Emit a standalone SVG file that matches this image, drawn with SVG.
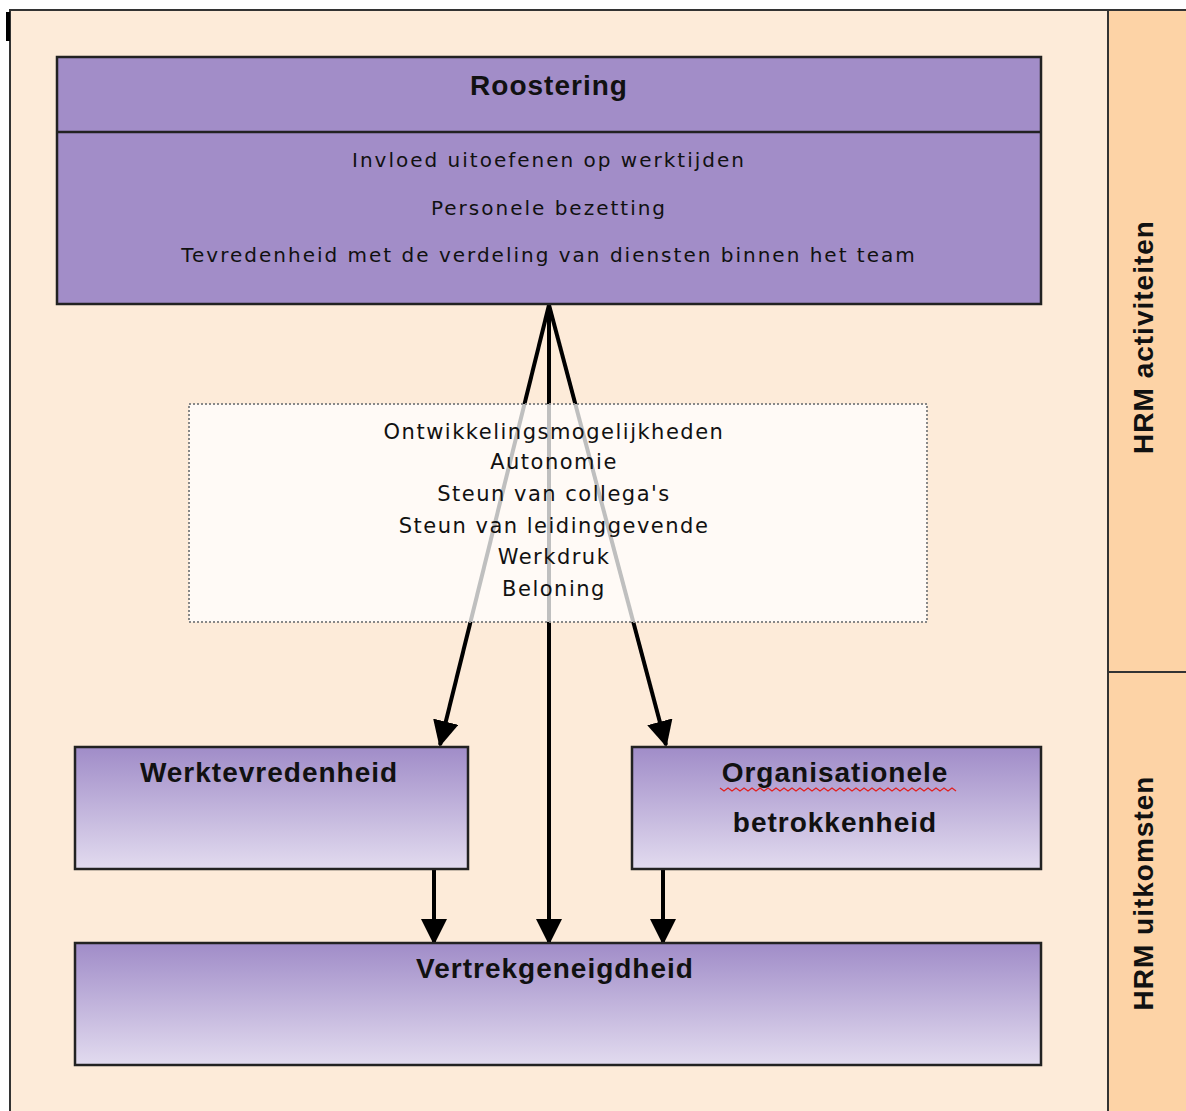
<svg xmlns="http://www.w3.org/2000/svg" width="1186" height="1111" viewBox="0 0 1186 1111">
<defs>
<linearGradient id="g" x1="0" y1="0" x2="0" y2="1">
<stop offset="0" stop-color="#a08cc8"/>
<stop offset="1" stop-color="#e2dbef"/>
</linearGradient>
<marker id="ah2" markerWidth="26" markerHeight="26" refX="24" refY="13" orient="auto" markerUnits="userSpaceOnUse" viewBox="0 0 26 26">
<path d="M0,0 L26,13 L0,26 z" fill="#000"/>
</marker>
<style>
.box{stroke:#222;stroke-width:2.5}
.t{font-family:"Liberation Sans",Arial,sans-serif;fill:#111;text-anchor:middle}
.b{font-weight:bold;font-size:28px;letter-spacing:1px}
.v{font-family:"Liberation Sans",Arial,sans-serif;font-weight:bold;font-size:28px;letter-spacing:1px;fill:#111;text-anchor:middle}
.item{font-family:"DejaVu Sans",Verdana,sans-serif;font-size:20px;letter-spacing:2px;fill:#111;text-anchor:middle}
.mid{font-family:"DejaVu Sans",Verdana,sans-serif;font-size:21px;letter-spacing:1.5px;fill:#111;text-anchor:middle}
.conn{stroke:#000;stroke-width:4;fill:none;marker-end:url(#ah2)}
</style>
</defs>
<rect width="1186" height="1111" fill="#fff"/>
<g id="frame">
<rect x="10" y="10" width="1200" height="1120" fill="#fdebd9" stroke="#333" stroke-width="2"/>
<rect x="1108" y="10" width="90" height="1120" fill="#fdd3a6" stroke="#333" stroke-width="2"/>
<line x1="1108" y1="672" x2="1186" y2="672" stroke="#333" stroke-width="2"/>
<rect x="6" y="12" width="4" height="29" fill="#000"/>
<text class="v" transform="translate(1153,337) rotate(-90)">HRM activiteiten</text>
<text class="v" transform="translate(1153,893) rotate(-90)">HRM uitkomsten</text>
</g>
<g id="connectors">
<line class="conn" x1="549" y1="305" x2="440" y2="745"/>
<line class="conn" x1="549" y1="305" x2="549" y2="943"/>
<line class="conn" x1="549" y1="305" x2="666" y2="745"/>
<line class="conn" x1="434" y1="869" x2="434" y2="943"/>
<line class="conn" x1="663" y1="869" x2="663" y2="943"/>
</g>
<g id="roostering">
<rect class="box" x="57" y="57" width="984" height="247" fill="#a28dc8"/>
<line x1="57" y1="132" x2="1041" y2="132" stroke="#222" stroke-width="2.5"/>
<text class="t b" x="549" y="95">Roostering</text>
<text class="item" x="549" y="167">Invloed uitoefenen op werktijden</text>
<text class="item" x="549" y="215">Personele bezetting</text>
<text class="item" x="549" y="262">Tevredenheid met de verdeling van diensten binnen het team</text>
</g>
<g id="mediators">
<rect x="189" y="404" width="738" height="218" fill="#fff" fill-opacity="0.75" stroke="#888" stroke-width="2" stroke-dasharray="2,2"/>
<text class="mid" x="554" y="439">Ontwikkelingsmogelijkheden</text>
<text class="mid" x="554" y="469">Autonomie</text>
<text class="mid" x="554" y="501">Steun van collega's</text>
<text class="mid" x="554" y="533">Steun van leidinggevende</text>
<text class="mid" x="554" y="564">Werkdruk</text>
<text class="mid" x="554" y="596">Beloning</text>
</g>
<g id="werktevredenheid">
<rect class="box" x="75" y="747" width="393" height="122" fill="url(#g)"/>
<text class="t b" x="269" y="782">Werktevredenheid</text>
</g>
<g id="organisationele">
<rect class="box" x="632" y="747" width="409" height="122" fill="url(#g)"/>
<text class="t b" x="835" y="782">Organisationele</text>
<path d="M720,788 l4,3 l4,-3 l4,3 l4,-3 l4,3 l4,-3 l4,3 l4,-3 l4,3 l4,-3 l4,3 l4,-3 l4,3 l4,-3 l4,3 l4,-3 l4,3 l4,-3 l4,3 l4,-3 l4,3 l4,-3 l4,3 l4,-3 l4,3 l4,-3 l4,3 l4,-3 l4,3 l4,-3 l4,3 l4,-3 l4,3 l4,-3 l4,3 l4,-3 l4,3 l4,-3 l4,3 l4,-3 l4,3 l4,-3 l4,3 l4,-3 l4,3 l4,-3 l4,3 l4,-3 l4,3 l4,-3 l4,3 l4,-3 l4,3 l4,-3 l4,3 l4,-3 l4,3 l4,-3 l4,3" fill="none" stroke="#e02020" stroke-width="1.3"/>
<text class="t b" x="835" y="832">betrokkenheid</text>
</g>
<g id="vertrek">
<rect class="box" x="75" y="943" width="966" height="122" fill="url(#g)"/>
<text class="t b" x="555" y="978">Vertrekgeneigdheid</text>
</g>
</svg>
